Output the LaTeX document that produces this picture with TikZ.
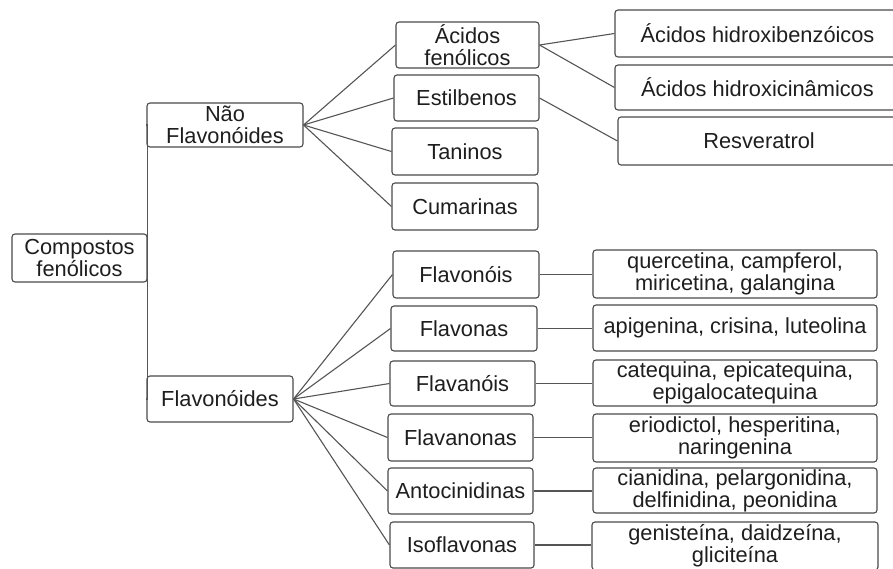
\documentclass[tikz,border=0pt]{standalone}
\usepackage{fontspec}
\setmainfont{Liberation Sans}
\definecolor{txt}{HTML}{1E1E1E}
\definecolor{edge}{HTML}{4A4A4A}
\definecolor{ln}{HTML}{555555}
\begin{document}
\begin{tikzpicture}[x=1pt,y=-1pt,
  box/.style={draw=edge, line width=1.1pt, rounded corners=3pt, align=center,
    inner sep=0pt, text=txt, font=\fontsize{21.8}{22}\selectfont},
  conn/.style={draw=ln, line width=1.1pt}]
\useasboundingbox (0,0) rectangle (893,568);
\clip (0,0) rectangle (893,568);
% level 0/1
\node[box, minimum width=135, minimum height=48] (comp) at (79.5,258) {Compostos\\fenólicos};
\node[box, minimum width=156, minimum height=44] (naof) at (225,125) {Não\\Flavonóides};
\node[box, minimum width=146, minimum height=46] (flav) at (220,399) {Flavonóides};
% non-flavonoids
\node[box, minimum width=143, minimum height=46] (acf) at (467.5,45) {Ácidos\\fenólicos};
\node[box, minimum width=145, minimum height=46] (est) at (466.5,98) {Estilbenos};
\node[box, minimum width=146, minimum height=47] (tan) at (465,151.5) {Taninos};
\node[box, minimum width=146, minimum height=47] (cum) at (465,206.5) {Cumarinas};
\node[box, minimum width=285, minimum height=47] (hbz) at (757.5,33.5) {Ácidos hidroxibenzóicos};
\node[box, minimum width=285, minimum height=45] (hcn) at (757.5,87.5) {Ácidos hidroxicinâmicos};
\node[box, minimum width=282, minimum height=48] (res) at (759,141) {Resveratrol};
% flavonoids
\node[box, minimum width=146, minimum height=47] (fl1) at (466,274.5) {Flavonóis};
\node[box, minimum width=146, minimum height=45] (fl2) at (464,328.5) {Flavonas};
\node[box, minimum width=145, minimum height=45] (fl3) at (462.5,383.5) {Flavanóis};
\node[box, minimum width=145, minimum height=47] (fl4) at (460.5,437.5) {Flavanonas};
\node[box, minimum width=145, minimum height=46] (fl5) at (460.5,491) {Antocinidinas};
\node[box, minimum width=144, minimum height=46] (fl6) at (462,545) {Isoflavonas};
\node[box, minimum width=284, minimum height=48] (ex1) at (735,274) {quercetina, campferol,\\miricetina, galangina};
\node[box, minimum width=284, minimum height=46] (ex2) at (735,328) {apigenina, crisina, luteolina};
\node[box, minimum width=284, minimum height=46] (ex3) at (735,383) {catequina, epicatequina,\\epigalocatequina};
\node[box, minimum width=284, minimum height=48] (ex4) at (735,438) {eriodictol, hesperitina,\\naringenina};
\node[box, minimum width=284, minimum height=45] (ex5) at (735,490.5) {cianidina, pelargonidina,\\delfinidina, peonidina};
\node[box, minimum width=286, minimum height=48] (ex6) at (735,546) {genisteína, daidzeína,\\gliciteína};
% connectors
\draw[conn] (comp.east) |- (naof.west);
\draw[conn] (comp.east) |- (flav.west);
\foreach \t in {acf,est,tan,cum} \draw[conn] (naof.east) -- (\t.west);
\draw[conn] (acf.east) -- (hbz.west);
\draw[conn] (acf.east) -- (hcn.west);
\draw[conn] (est.east) -- (res.west);
\foreach \i in {1,...,6} {
  \draw[conn] (flav.east) -- (fl\i.west);
  \draw[conn] (fl\i.east) -- (fl\i.east -| ex\i.west);
}
\end{tikzpicture}
\end{document}
